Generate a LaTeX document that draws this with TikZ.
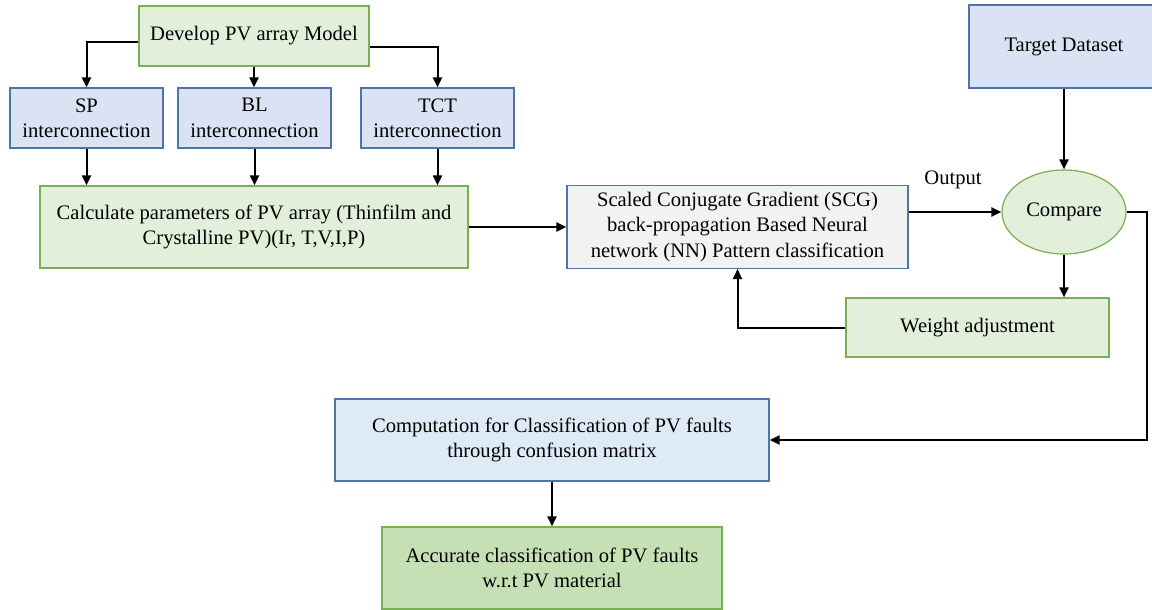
\documentclass[tikz,border=0pt]{standalone}
\usepackage{fontspec}
\setmainfont{Liberation Serif}
\usetikzlibrary{shapes.geometric, arrows.meta, positioning}
\definecolor{greenfill}{HTML}{E2EFDA}
\definecolor{darkgreenfill}{HTML}{C5E0B4}
\definecolor{greenline}{HTML}{78B052}
\definecolor{bluefill}{HTML}{DAE3F3}
\definecolor{lightbluefill}{HTML}{DEEBF7}
\definecolor{grayfill}{HTML}{F2F2F2}
\definecolor{blueline}{HTML}{4F75A8}
\tikzstyle{greenbox} = [rectangle, text centered, align=center, draw=greenline, fill=greenfill, line width=0.6pt]
\tikzstyle{resultbox} = [rectangle, text centered, align=center, draw=greenline, fill=darkgreenfill, line width=0.6pt]
\tikzstyle{bluebox} = [rectangle, text centered, align=center, draw=blueline, fill=bluefill, line width=0.6pt]
\tikzstyle{matrixbox} = [rectangle, text centered, align=center, draw=blueline, fill=lightbluefill, line width=0.6pt]
\tikzstyle{nnbox} = [rectangle, text centered, align=center, draw=blueline, fill=grayfill, line width=0.6pt]
\tikzstyle{decision} = [ellipse, text centered, draw=greenline, fill=greenfill, line width=0.6pt, inner sep=0pt]
\tikzstyle{arrow} = [line width=1pt, -{Triangle[length=5pt,width=4.5pt]}]

\begin{document}
\begin{tikzpicture}[x=0.5pt, y=-0.5pt, font=\fontsize{10.3}{12.7}\selectfont]
\useasboundingbox (0,0) rectangle (1152,610);

% Nodes
\node (develop) [greenbox, minimum width=115pt, minimum height=30pt] at (254,36) {Develop PV array Model};
\node (sp) [bluebox, minimum width=76.5pt, minimum height=30pt] at (86.5,118) {SP\\interconnection};
\node (bl) [bluebox, minimum width=76.5pt, minimum height=30pt] at (254.5,118) {BL\\interconnection};
\node (tct) [bluebox, minimum width=76.5pt, minimum height=30pt] at (437.5,118) {TCT\\interconnection};
\node (calc) [greenbox, minimum width=214pt, minimum height=41pt] at (254,227) {Calculate parameters of PV array (Thinfilm and\\Crystalline PV)(Ir, T,V,I,P)};
\node (scg) [nnbox, minimum width=170.5pt, minimum height=41pt] at (737.5,227) {Scaled Conjugate Gradient (SCG)\\back-propagation Based Neural\\network (NN) Pattern classification};
\node (target) [bluebox, minimum width=95pt, minimum height=41.5pt] at (1064,46.5) {Target Dataset};
\node (compare) [decision, minimum width=62pt, minimum height=42pt] at (1064,212) {Compare};
\node (outlabel) at (953,180) {Output};
\node (weight) [greenbox, minimum width=131.5pt, minimum height=29.5pt] at (977.5,327.5) {Weight adjustment};
\node (comp) [matrixbox, minimum width=217pt, minimum height=41pt] at (552,440) {Computation for Classification of PV faults\\through confusion matrix};
\node (accurate) [resultbox, minimum width=170pt, minimum height=41pt] at (552,568) {Accurate classification of PV faults\\w.r.t PV material};
\coordinate (turn) at (1147,212);

% Arrows
\draw [arrow] ([yshift=-3pt]develop.west) -| (sp.north);
\draw [arrow] (develop.south) -- (develop.south |- bl.north);
\draw [arrow] ([yshift=-5.5pt]develop.east) -| (tct.north);
\draw [arrow] (sp.south) -- (sp.south |- calc.north);
\draw [arrow] (bl.south) -- (bl.south |- calc.north);
\draw [arrow] (tct.south) -- (tct.south |- calc.north);
\draw [arrow] (calc) -- (scg);
\draw [arrow] (scg.east |- compare.west) -- (compare.west);
\draw [arrow] (target) -- (compare);
\draw [arrow] (compare.south) -- (compare.south |- weight.north);
\draw [arrow] (weight.west) -| (scg.south);
\draw [arrow] (compare.east) -- (turn) |- (comp.east);
\draw [arrow] (comp) -- (accurate);

\end{tikzpicture}
\end{document}
